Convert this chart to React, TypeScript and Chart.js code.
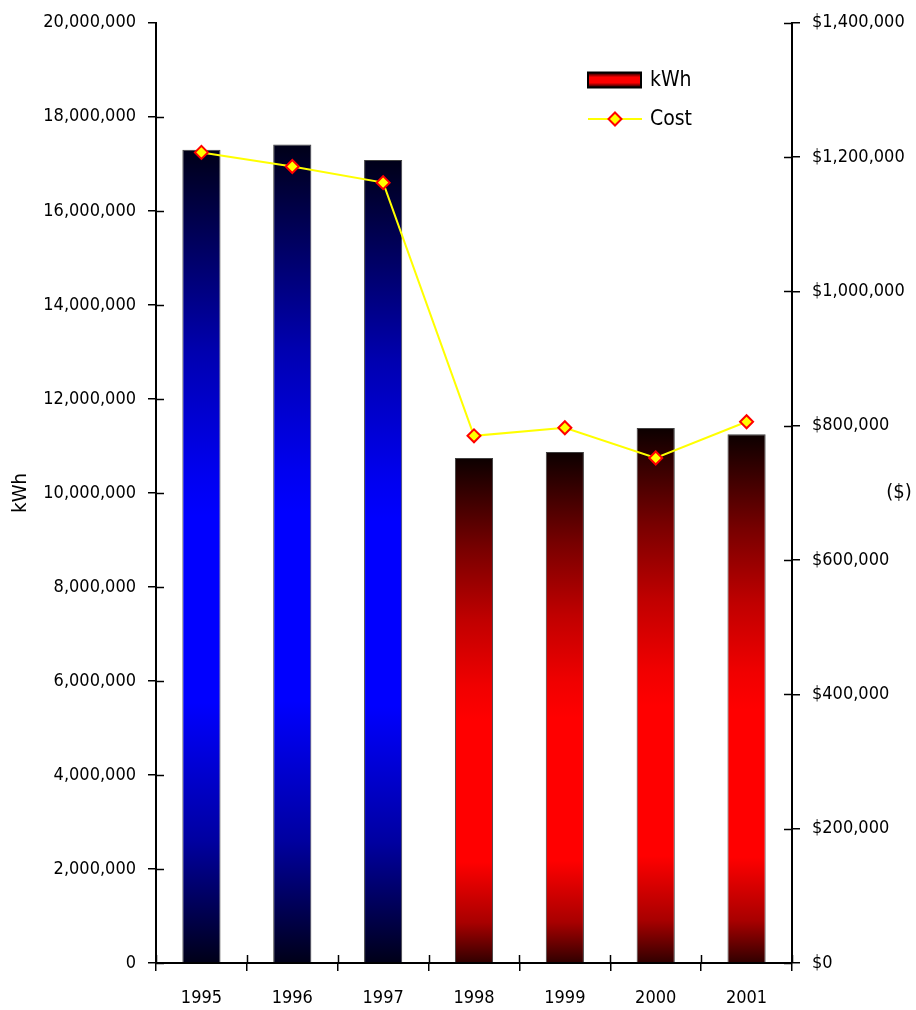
import React, { useEffect, useRef } from "react";
import { Chart, registerables } from "chart.js";

Chart.register(...registerables);

const years = ["1995", "1996", "1997", "1998", "1999", "2000", "2001"];
const kwhValues = [17300000, 17410000, 17080000, 10740000, 10870000, 11380000, 11250000];
const costValues = [1207000, 1186000, 1162000, 785000, 797000, 752000, 806000];
const blueYears = ["1995", "1996", "1997"];

const FONT = "'DejaVu Sans Condensed', 'Liberation Sans Narrow', 'DejaVu Sans', sans-serif";
const NARROW = "'Liberation Sans Narrow', 'DejaVu Sans Condensed', sans-serif";

function fmt(n: number) {
  return Math.round(n).toString().replace(/\B(?=(\d{3})+(?!\d))/g, ",");
}

function barGradient(ctx: any) {
  const chart = ctx.chart;
  const y = chart.scales?.y;
  if (!y || ctx.dataIndex === undefined) return "#000";
  const v = kwhValues[ctx.dataIndex];
  const top = y.getPixelForValue(v);
  const bottom = y.getPixelForValue(0);
  if (!isFinite(top) || !isFinite(bottom) || bottom - top < 1) return "#000";
  const g = chart.ctx.createLinearGradient(0, top, 0, bottom);
  if (blueYears.includes(years[ctx.dataIndex])) {
    g.addColorStop(0, "#000018");
    g.addColorStop(0.25, "#0000b0");
    g.addColorStop(0.4, "#0000f0");
    g.addColorStop(0.45, "#0000ff");
    g.addColorStop(0.68, "#0000ff");
    g.addColorStop(0.85, "#0000a0");
    g.addColorStop(1, "#000018");
  } else {
    g.addColorStop(0, "#0c0000");
    g.addColorStop(0.18, "#780000");
    g.addColorStop(0.32, "#c00000");
    g.addColorStop(0.45, "#f00000");
    g.addColorStop(0.52, "#ff0000");
    g.addColorStop(0.8, "#ff0000");
    g.addColorStop(0.92, "#a80000");
    g.addColorStop(1, "#300000");
  }
  return g;
}

const extrasPlugin = {
  id: "extras",
  afterDraw(chart: any) {
    const c = chart.ctx;
    const ca = chart.chartArea;
    const ys = chart.scales.y;
    const y1 = chart.scales.y1;
    c.save();
    c.strokeStyle = "#000";
    c.lineWidth = 1.5;
    ys.ticks.forEach((t: any) => {
      const p = Math.round(ys.getPixelForValue(t.value)) + 0.5;
      if (t.value === ys.max) return;
      c.beginPath();
      c.moveTo(ca.left, p);
      c.lineTo(ca.left + 8, p);
      c.stroke();
    });
    y1.ticks.forEach((t: any) => {
      const p = Math.round(y1.getPixelForValue(t.value)) + 0.5;
      c.beginPath();
      c.moveTo(ca.right - 8, p);
      c.lineTo(ca.right, p);
      c.stroke();
    });
    const n = years.length;
    for (let i = 0; i <= n; i++) {
      const px = Math.round(ca.left + (i * (ca.right - ca.left)) / n) + 0.5;
      c.beginPath();
      c.moveTo(px, ca.bottom - 8);
      c.lineTo(px, ca.bottom);
      c.stroke();
    }
    // axis titles
    c.fillStyle = "#000";
    c.font = `20px ${NARROW}`;
    c.textAlign = "center";
    c.textBaseline = "middle";
    c.save();
    c.translate(21, (ca.top + ca.bottom) / 2);
    c.rotate(-Math.PI / 2);
    c.fillText("kWh", 0, 0);
    c.restore();
    c.fillText("($)", 899, (ca.top + ca.bottom) / 2);

    // legend
    const lx = 588;
    const ly1 = 80;
    const ly2 = 119;
    const lg = c.createLinearGradient(0, ly1 - 7, 0, ly1 + 7);
    lg.addColorStop(0, "#200000");
    lg.addColorStop(0.3, "#ff0000");
    lg.addColorStop(0.7, "#ff0000");
    lg.addColorStop(1, "#200000");
    c.fillStyle = lg;
    c.fillRect(lx, ly1 - 7.5, 53, 15);
    c.lineWidth = 2;
    c.strokeStyle = "#000";
    c.strokeRect(lx, ly1 - 7.5, 53, 15);
    c.strokeStyle = "#ffff00";
    c.lineWidth = 2;
    c.beginPath();
    c.moveTo(lx, ly2);
    c.lineTo(lx + 54, ly2);
    c.stroke();
    c.beginPath();
    const dx = lx + 27;
    const r = 6.5;
    c.moveTo(dx, ly2 - r);
    c.lineTo(dx + r, ly2);
    c.lineTo(dx, ly2 + r);
    c.lineTo(dx - r, ly2);
    c.closePath();
    c.fillStyle = "#ffff00";
    c.fill();
    c.strokeStyle = "#ff0000";
    c.lineWidth = 2;
    c.stroke();
    c.fillStyle = "#000";
    c.font = `21px ${NARROW}`;
    c.textAlign = "left";
    c.fillText("kWh", 650, ly1 + 1);
    c.fillText("Cost", 650, ly2 + 1);
    c.restore();
  },
};

export default function App() {
  const ref = useRef<HTMLCanvasElement | null>(null);
  useEffect(() => {
    if (!ref.current) return;
    const chart = new Chart(ref.current, {
      type: "bar",
      data: {
        labels: years,
        datasets: [
          {
            type: "line",
            label: "Cost",
            data: costValues,
            yAxisID: "y1",
            borderColor: "#ffff00",
            borderWidth: 2,
            pointStyle: "rectRot",
            pointRadius: 6.5,
            pointBackgroundColor: "#ffff00",
            pointBorderColor: "#ff0000",
            pointBorderWidth: 2,
            tension: 0,
            order: 0,
          } as any,
          {
            type: "bar",
            label: "kWh",
            data: kwhValues,
            yAxisID: "y",
            backgroundColor: barGradient as any,
            borderColor: "#404040",
            borderWidth: 1,
            categoryPercentage: 1,
            barPercentage: 0.42,
            order: 1,
          },
        ],
      },
      options: {
        responsive: false,
        animation: false,
        layout: { padding: { top: 21, left: 0, right: 0, bottom: 0 } },
        plugins: { legend: { display: false }, tooltip: { enabled: false } },
        scales: {
          x: {
            offset: true,
            grid: { offset: true, drawOnChartArea: false, tickLength: 8, color: "#000", lineWidth: 1.5 },
            border: { color: "#000", width: 2 },
            ticks: { color: "#000", font: { family: FONT, size: 18 }, padding: 17, maxRotation: 0 },
            afterFit: (s: any) => {
              s.height = 47;
            },
          },
          y: {
            position: "left",
            min: 0,
            max: 20000000,
            grid: { drawOnChartArea: false, tickLength: 8, color: "#000", lineWidth: 1.5 },
            border: { color: "#000", width: 2 },
            ticks: {
              stepSize: 2000000,
              color: "#000",
              padding: 12,
              font: { family: FONT, size: 18 },
              callback: (v: any) => fmt(Number(v)),
            },
            afterFit: (s: any) => {
              s.width = 156;
            },
          },
          y1: {
            position: "right",
            min: 0,
            max: 1400000,
            grid: { drawOnChartArea: false, tickLength: 8, color: "#000", lineWidth: 1.5 },
            border: { color: "#000", width: 2 },
            ticks: {
              stepSize: 200000,
              color: "#000",
              padding: 12,
              font: { family: FONT, size: 18 },
              callback: (v: any) => "$" + fmt(Number(v)),
            },
            afterFit: (s: any) => {
              s.width = 124;
            },
          },
        },
      },
      plugins: [extrasPlugin],
    });
    return () => chart.destroy();
  }, []);
  return (
    <div style={{ position: "fixed", left: 0, top: 0, width: 916, height: 1010, background: "#fff" }}>
      <canvas ref={ref} width={916} height={1010} />
    </div>
  );
}
